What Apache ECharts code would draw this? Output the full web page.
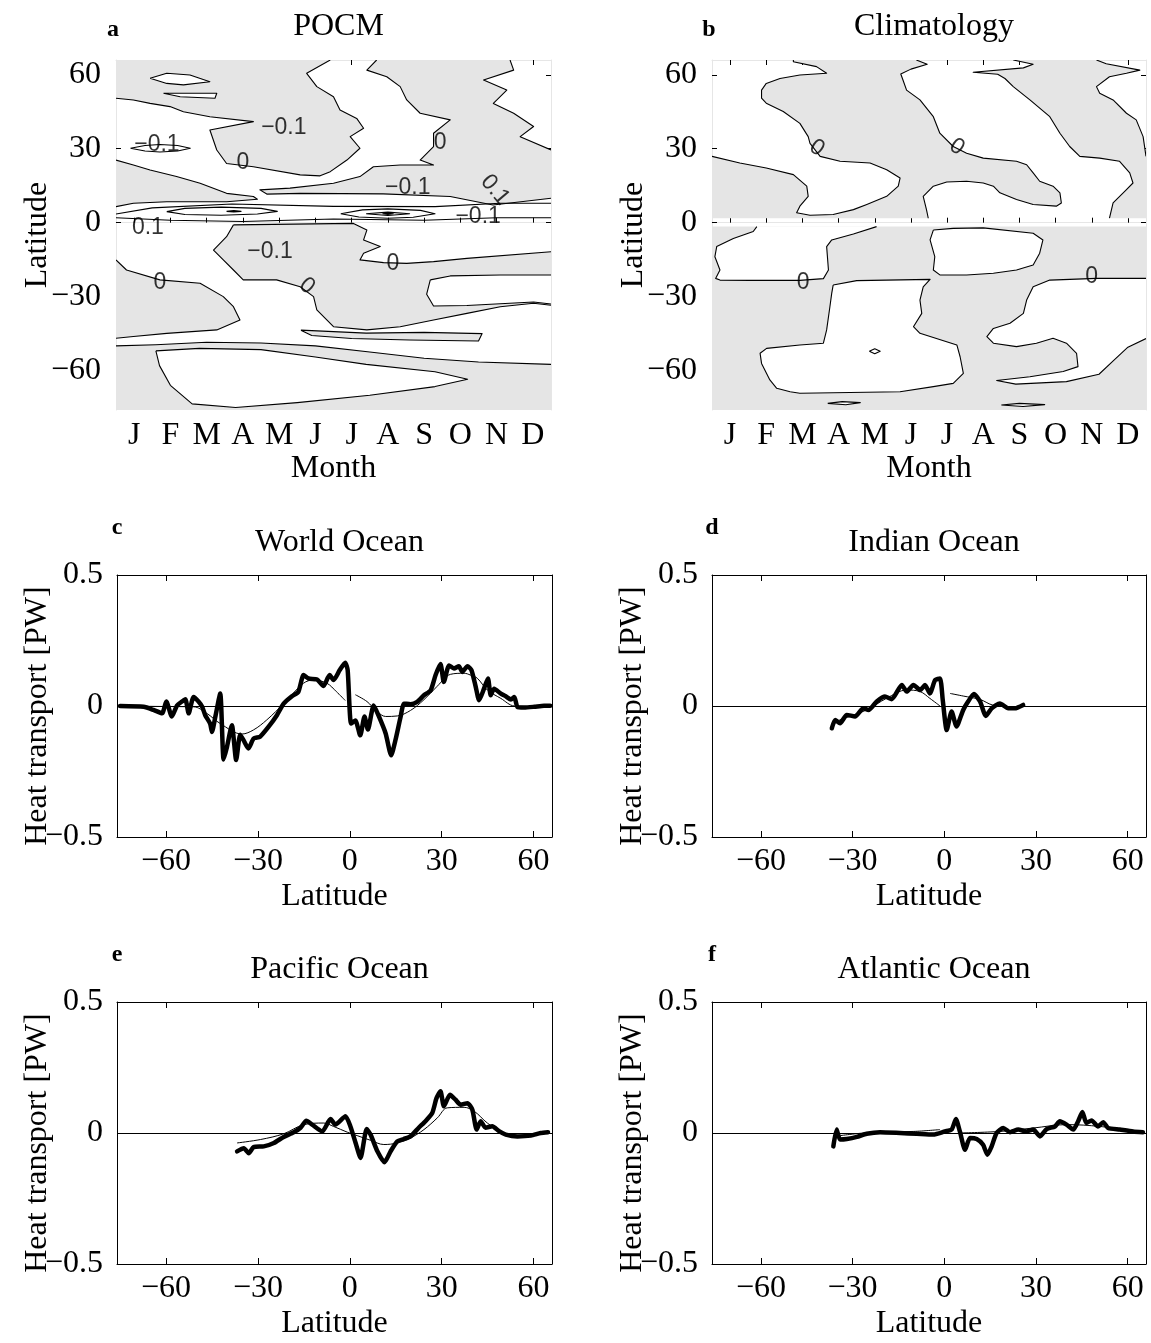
<!DOCTYPE html>
<html><head><meta charset="utf-8"><title>Heat transport</title>
<script src="https://cdn.jsdelivr.net/npm/echarts@6.0.0/dist/echarts.min.js"></script>
<style>html,body{margin:0;padding:0;background:#fff}#chart{width:1151px;height:1343px}</style>
</head><body><div id="chart"></div>
<script>
// ---------------- DATA ----------------
const monthLabels = ['J','F','M','A','M','J','J','A','S','O','N','D'];
const latTickValues = [-60, -30, 0, 30, 60];
const heatTickInterval = 0.5;

// Panel a (POCM): grey (negative) regions, white holes, closed contours, open contours [month, latitude]
const pocmGrey = [
  [[0.5,66],[6.41,66],[5.76,60.6],[6.04,55.2],[6.5,51.1],[6.68,45.7],[7.14,42.3],[7.33,38.3],[6.96,34.9],[7.23,30.2],[6.87,25.4],[6.41,20.7],[6.13,19.0],[5.58,19.4],[4.29,22.7],[3.55,24.0],[3.28,29.5],[3.09,37.6],[4.29,41.0],[3.09,43.0],[2.36,45.0],[1.99,47.1],[1.44,48.4],[0.98,49.8],[0.5,50.5]],
  [[7.69,66],[11.37,66],[11.47,61.9],[10.64,57.9],[11.28,53.8],[10.91,48.4],[11.47,44.4],[12.02,39.0],[11.65,34.9],[12.5,29.5],[12.5,9.9],[10.9,7.2],[9.72,10.6],[7.87,11.7],[5.58,11.9],[4.66,11.6],[4.47,13.3],[5.3,14.0],[6.5,16.0],[7.23,18.7],[7.6,22.7],[8.34,23.4],[9.26,23.4],[8.89,25.4],[9.26,30.9],[9.26,36.3],[9.72,41.7],[8.89,44.4],[8.52,49.8],[8.34,55.2],[7.97,59.2],[7.42,61.9]],
  [[0.5,25.4],[0.98,23.4],[1.44,21.4],[2.17,18.7],[2.82,16.0],[3.55,11.9],[4.29,10.6],[4.4,9.5],[3.55,8.5],[1.9,8.5],[0.98,7.9],[0.5,6.5]],
  [[0.5,-15.1],[0.79,-19.2],[1.71,-23.2],[2.82,-24.6],[3.46,-30.0],[3.74,-34.1],[3.92,-39.5],[3.28,-43.5],[1.9,-44.9],[0.98,-46.2],[0.5,-46.9]],
  [[3.74,-0.9],[7.05,-0.3],[7.42,-3.0],[7.33,-7.0],[7.79,-9.7],[7.33,-12.4],[7.23,-15.1],[7.88,-16.2],[8.52,-16.5],[9.26,-15.8],[10.18,-14.5],[12.5,-11.8],[12.5,-33.5],[12.02,-32.7],[11.1,-34.1],[10.18,-36.8],[9.26,-39.5],[8.34,-42.2],[7.42,-43.5],[6.5,-42.2],[6.04,-35.4],[5.95,-30.0],[5.58,-26.0],[4.93,-23.2],[4.01,-23.2],[3.74,-19.2],[3.46,-15.1],[3.19,-11.1],[3.55,-5.7]],
  [[5.6,-43.6],[7.4,-44.8],[9.0,-44.5],[10.6,-45.0],[10.5,-48.0],[8.6,-47.6],[7.0,-47.0],[5.9,-45.8]],
  [[0.5,-50],[1.6,-49.5],[3.0,-48.5],[4.5,-48.8],[6.0,-50.0],[7.5,-52.5],[9.0,-55.0],[10.5,-56.5],[12.5,-57.5],[12.5,-76],[0.5,-76]]
];
const pocmWhite = [
  [[1.44,58.6],[1.90,60.6],[2.54,59.9],[3.09,57.2],[2.36,55.9],[1.90,56.5]],
  [[1.81,52.5],[3.28,52.5],[3.23,50.5],[2.27,51.1]],
  [[9.17,-23.2],[9.72,-21.6],[11.1,-21.2],[12.5,-21.2],[12.5,-33.0],[12.02,-32.2],[10.18,-33.6],[9.26,-33.8],[9.07,-29.0]],
  [[1.6,-52],[2.8,-51],[4.5,-51.5],[6.0,-54.5],[7.4,-57.5],[9.3,-60.5],[10.2,-63.5],[9.3,-66.5],[7.5,-70.0],[5.5,-73.0],[3.8,-75.0],[2.6,-73.5],[2.0,-66.0],[1.7,-58.0]]
];
const pocmRings = [
  [[1.9,4.5],[2.4,5.8],[3.4,6.3],[4.5,5.8],[4.95,4.6],[4.4,3.5],[3.4,3.0],[2.4,3.3]],
  [[3.55,4.6],[3.75,4.9],[3.95,4.6],[3.75,4.3]],
  [[6.7,3.6],[7.3,5.2],[8.0,5.6],[8.9,5.0],[9.3,3.6],[8.7,2.2],[8.0,1.8],[7.2,2.3]],
  [[7.4,3.6],[8.0,4.3],[8.6,3.6],[8.0,2.9]],
  [[7.85,3.6],[8.0,3.85],[8.15,3.6],[8.0,3.35]],
  [[0.9,30.2],[1.3,31.3],[1.71,31.7],[2.2,31.3],[2.55,30.2],[2.2,29.1],[1.71,28.7],[1.3,29.1]]
];
const pocmCurves = [
  [[0.5,3.5],[1.5,6.0],[3.7,7.6],[6.5,6.6],[9.3,6.5],[11.1,7.9],[12.5,7.9]],
  [[0.5,2.0],[2.0,1.0],[4.0,0.5],[6.5,1.5],[9.0,1.0],[11.0,2.0],[12.5,2.0]]
];
const pocmLabels = [
  [1.63,31.5,'\u22120.1',0],[4.0,24.2,'0',0],[5.13,38.4,'\u22120.1',0],[9.44,32.3,'0',0],
  [8.55,14.1,'\u22120.1',0],[10.96,13.3,'0.1',-50],[10.49,2.3,'\u22120.1',0],[1.38,-2.2,'0.1',0],
  [4.75,-11.9,'\u22120.1',0],[1.71,-24.5,'0',0],[8.14,-16.8,'0',0],[5.77,-25.7,'0',-40]
];

// Panel b (Climatology)
const climGrey = [
  [[0.5,26.9],[1.27,24.2],[2.0,22.2],[2.75,19.5],[3.12,14.8],[3.16,10.7],[2.93,6.7],[2.84,4.0],[3.21,3.0],[3.85,3.3],[4.41,5.3],[4.78,7.4],[5.33,10.7],[5.65,14.8],[5.70,18.1],[5.33,21.5],[4.87,24.2],[4.04,24.9],[3.49,26.9],[3.21,32.2],[3.16,34.9],[2.93,40.3],[2.47,45.1],[2.0,48.5],[1.87,50.5],[1.87,53.8],[2.0,56.5],[2.38,58.5],[2.93,59.9],[3.67,60.6],[3.39,63.3],[2.75,65.3],[2.75,66],[6.15,66],[6.45,64.3],[6.0,62.3],[5.72,60.3],[5.79,57.5],[5.88,53.8],[6.25,49.8],[6.62,43.0],[6.80,36.3],[7.17,30.9],[7.54,28.2],[8.0,26.2],[8.92,24.9],[9.2,23.5],[9.38,20.2],[9.56,16.8],[9.93,14.8],[10.12,12.1],[10.16,8.0],[10.02,6.7],[9.38,7.4],[8.92,9.4],[8.46,12.1],[8.28,14.8],[8.0,16.1],[7.54,16.8],[6.99,16.5],[6.62,14.8],[6.34,10.7],[6.43,5.3],[6.48,1.8],[0.5,1.8]],
  [[8.83,66],[9.38,64.3],[9.11,62.8],[7.72,61.0],[8.4,60.2],[8.6,58.5],[8.83,55.2],[9.29,49.8],[9.84,43.0],[10.12,36.3],[10.39,30.9],[10.67,26.9],[11.22,26.2],[11.77,24.9],[12.05,20.2],[12.14,16.1],[11.96,13.4],[11.59,8.0],[11.49,1.8],[12.5,1.8],[12.5,26.9],[12.42,34.9],[12.23,41.7],[11.96,44.4],[11.59,49.8],[11.22,52.5],[11.13,55.2],[11.49,59.2],[11.96,60.6],[12.33,61.9],[11.4,64.5],[11.13,66]],
  [[0.5,-1.6],[12.5,-1.6],[12.5,-76],[0.5,-76]]
];
const climWhite = [
  [[1.74,-1.6],[1.64,-3.6],[1.09,-6.4],[0.63,-9.7],[0.58,-13.8],[0.72,-19.2],[0.6,-22.6],[0.72,-23.3],[1.55,-23.4],[2.93,-23.4],[3.58,-22.7],[3.72,-19.2],[3.67,-9.7],[3.81,-7.0],[4.41,-4.6],[5.05,-1.6]],
  [[3.85,-25.3],[4.5,-23.5],[6.53,-23.0],[6.34,-26.0],[6.25,-31.4],[6.30,-36.8],[6.07,-42.2],[6.25,-44.9],[7.27,-49.6],[7.36,-54.4],[7.45,-61.1],[7.17,-65.2],[6.62,-66.5],[5.70,-68.6],[2.93,-69.2],[2.66,-68.6],[2.29,-67.2],[2.10,-63.8],[1.87,-57.1],[1.83,-53.0],[2.01,-51.0],[2.93,-49.6],[3.58,-48.9],[3.67,-43.5],[3.76,-34.1],[3.81,-28.7]],
  [[6.62,-3.0],[7.17,-2.3],[8.0,-2.1],[9.38,-4.3],[9.65,-7.0],[9.56,-12.4],[9.38,-17.2],[8.92,-19.2],[8.28,-20.5],[7.54,-21.2],[6.80,-21.2],[6.62,-19.2],[6.66,-13.8],[6.53,-7.0]],
  [[12.5,-22.6],[11.13,-22.6],[9.84,-23.3],[9.38,-26.0],[9.20,-31.4],[9.11,-36.8],[8.74,-40.8],[8.28,-42.9],[8.10,-46.2],[8.28,-48.9],[8.92,-50.3],[9.47,-48.9],[9.93,-46.9],[10.30,-48.9],[10.58,-53.0],[10.62,-58.4],[10.21,-60.4],[9.29,-62.5],[8.37,-64.0],[8.9,-65.5],[10.3,-64.5],[11.2,-61.5],[11.6,-56.0],[12.0,-50.5],[12.5,-47.0]],
  [[3.7,-73.3],[4.1,-72.6],[4.6,-73.0],[4.2,-73.9]],
  [[8.5,-74.0],[9.0,-73.3],[9.7,-73.8],[9.1,-74.6]]
];
const climRings = [
  [[4.85,-52.2],[5.0,-51.2],[5.15,-52.2],[5.0,-53.2]]
];
const climLabels = [
  [3.40,30.3,'0',-35],[7.27,30.7,'0',-35],[3.02,-24.5,'0',0],[11.0,-22.0,'0',0]
];

// Panels c-f: [latitude, PW]; thick = POCM, thin = climatology-based estimate
const worldModel = [[-75,0],[-67.3,-0.003],[-64.1,-0.015],[-61.3,-0.028],[-59.9,0.017],[-58.1,-0.04],[-56.4,0.002],[-54.8,0.017],[-53.7,0.026],[-52.6,-0.028],[-51.0,0.034],[-49.4,0.017],[-48.2,-0.003],[-47.2,-0.035],[-45.6,-0.067],[-45.0,-0.099],[-43.9,-0.041],[-42.3,0.048],[-41.2,-0.204],[-40.1,-0.156],[-38.5,-0.073],[-37.1,-0.206],[-35.8,-0.11],[-34.7,-0.13],[-33.1,-0.162],[-31.4,-0.124],[-29.3,-0.117],[-26.5,-0.079],[-23.8,-0.035],[-21.6,0.009],[-18.9,0.037],[-16.8,0.054],[-15.1,0.118],[-13.5,0.105],[-10.7,0.101],[-8.6,0.076],[-6.6,0.118],[-5.3,0.099],[-3.3,0.137],[-1.5,0.165],[-0.7,0.137],[0.4,-0.067],[1.8,-0.055],[3.4,-0.112],[4.8,-0.04],[5.9,-0.09],[7.8,0.002],[9.5,-0.04],[11.7,-0.105],[13.5,-0.188],[14.9,-0.13],[16.6,-0.04],[17.7,0.009],[19.8,0.007],[22.0,0.016],[24.2,0.041],[26.4,0.06],[28.0,0.118],[29.6,0.16],[30.7,0.092],[32.4,0.155],[34.0,0.143],[35.6,0.152],[36.7,0.13],[38.4,0.152],[39.7,0.137],[41.1,0.073],[42.2,0.022],[43.8,0.066],[45.1,0.105],[46.0,0.041],[47.1,0.066],[49.3,0.047],[50.9,0.037],[52.6,0.025],[53.7,0.034],[54.7,-0.003],[56.9,-0.006],[60.2,-0.003],[63.4,0.001],[65.4,0.001]];
const worldClimSouth = [[-75,0],[-60,-0.002],[-51,-0.003],[-46.7,-0.028],[-42.3,-0.067],[-35.2,-0.107],[-31.4,-0.091],[-27.1,-0.053],[-21.6,0.009],[-15.1,0.087],[-11.8,0.099],[-7.5,0.087],[-4.4,0.055],[-1.5,0.021]];
const worldClimNorth = [[1.8,0.043],[5.6,0.017],[8.9,-0.021],[11.7,-0.040],[15.5,-0.038],[19.8,-0.017],[24.2,0.024],[28.5,0.075],[32.9,0.121],[37.3,0.125],[39.4,0.118],[41.6,0.106],[44.9,0.061],[49.3,0.029],[53.7,0.0],[60,-0.002],[65.4,0.0]];

const indianModel = [[-36.8,-0.085],[-35.7,-0.053],[-34.1,-0.066],[-31.9,-0.034],[-29.2,-0.040],[-26.5,-0.009],[-24.8,-0.015],[-22.1,0.017],[-19.4,0.036],[-17.2,0.026],[-13.9,0.080],[-12.3,0.055],[-10.1,0.080],[-7.9,0.061],[-6.3,0.080],[-4.7,0.048],[-3.0,0.099],[-1.4,0.105],[-0.5,0.023],[0.8,-0.092],[2.4,-0.021],[4.0,-0.078],[6.2,-0.015],[7.8,0.017],[9.7,0.046],[11.7,0.017],[13.6,-0.038],[15.5,-0.009],[18.2,0.010],[20.9,-0.009],[23.1,-0.009],[25.8,0.004]];
const indianClimSouth = [[-36.8,-0.072],[-34.1,-0.053],[-25.4,-0.015],[-18.8,0.030],[-12.3,0.061],[-7.9,0.055],[-4.7,0.029],[-1.4,0.0]];
const indianClimNorth = [[1.9,0.048],[6.2,0.038],[11.7,0.025],[15.7,0.004],[20.9,-0.003],[25.8,0.0]];

const pacificModel = [[-36.8,-0.070],[-34.6,-0.058],[-33.0,-0.077],[-31.4,-0.054],[-28.1,-0.051],[-24.8,-0.038],[-21.6,-0.015],[-18.3,0.003],[-16.1,0.020],[-14.2,0.047],[-12.3,0.032],[-9.0,0.006],[-6.3,0.053],[-4.7,0.032],[-1.4,0.064],[0.2,0.025],[1.9,-0.038],[3.5,-0.095],[5.5,0.015],[6.8,-0.007],[9.0,-0.070],[11.3,-0.112],[13.3,-0.070],[15.5,-0.032],[17.6,-0.023],[19.8,-0.013],[22.5,0.020],[24.7,0.045],[26.9,0.076],[28.3,0.133],[29.6,0.159],[30.7,0.102],[32.7,0.146],[34.5,0.127],[36.2,0.108],[38.4,0.114],[40.0,0.089],[41.4,0.013],[42.7,0.045],[44.3,0.020],[46.5,0.026],[48.7,0.007],[50.9,-0.006],[54.7,-0.013],[59.1,-0.010],[62.3,0.000],[64.7,0.003]];
const pacificClim = [[-36.8,-0.038],[-29.2,-0.025],[-21.6,-0.003],[-15.0,0.032],[-8.5,0.038],[-5.3,0.025],[-0.8,0.003],[2.4,-0.010],[6.8,-0.028],[11.1,-0.044],[15.5,-0.038],[19.8,-0.019],[24.2,0.013],[28.6,0.058],[31.8,0.096],[37.3,0.098],[40.6,0.083],[44.9,0.038],[49.2,0.006],[52.5,-0.006],[57.9,-0.010],[64.7,0.003]];

const atlanticModel = [[-36.3,-0.051],[-35.2,0.013],[-34.1,-0.025],[-31.9,-0.023],[-28.6,-0.015],[-25.4,-0.003],[-21.0,0.003],[-14.5,0.000],[-9.0,-0.003],[-3.6,-0.006],[0.2,0.006],[2.4,0.013],[3.8,0.053],[5.1,0.006],[6.8,-0.064],[8.4,-0.019],[10.6,-0.023],[12.7,-0.045],[14.1,-0.083],[15.5,-0.051],[17.1,0.000],[19.3,0.019],[21.5,0.003],[24.2,0.013],[26.9,0.006],[29.1,0.013],[31.3,-0.013],[33.5,0.015],[36.2,0.025],[37.8,0.045],[40.0,0.032],[42.2,0.013],[43.8,0.045],[45.2,0.080],[46.5,0.038],[48.2,0.048],[50.3,0.025],[52.0,0.041],[53.6,0.019],[57.4,0.013],[61.8,0.006],[65.0,0.003]];
const atlanticClimSouth = [[-34.1,-0.010],[-23.3,0.003],[-10.0,0.006],[-1.4,0.013]];
const atlanticClimNorth = [[5.0,0.000],[18.2,0.006],[29.1,0.019],[40.0,0.032],[50.9,0.025],[65.0,0.003]];

// ---------------- BUILD ----------------
const SERIF = 'Liberation Serif';
const SANS = 'Liberation Sans';
const GREY = '#e5e5e5';
const LAT_MIN = -76, LAT_MAX = 66;
const fmt = v => (v < 0 ? '\u2212' + Math.abs(v) : String(v));

const grids = [], xAxes = [], yAxes = [], series = [], titles = [], graphics = [];

function txt(text, x, y, size, bold) {
  titles.push({text, left: x, top: y, textAlign: 'center',
    textStyle: {fontFamily: SERIF, fontSize: size, fontWeight: bold ? 'bold' : 'normal', color: '#000'}});
}
function vtxt(text, x, y) {
  graphics.push({type: 'text', x: x, y: y, rotation: Math.PI / 2, silent: true,
    style: {text: text, fill: '#000', font: '32px "Liberation Serif"', textAlign: 'center', textVerticalAlign: 'middle', align: 'center', verticalAlign: 'middle'}});
}

function polySeries(xi, yi, polys, fill, closed, frame, z) {
  return {
    type: 'custom', xAxisIndex: xi, yAxisIndex: yi, silent: true, clip: true, z: z,
    dimensions: ['x', 'y', 'idx'], encode: {x: 0, y: 1},
    data: polys.map((p, i) => [p[0][0], p[0][1], i]),
    renderItem: function (params, api) {
      const poly = polys[api.value(2)];
      const pts = poly.map(p => api.coord(p));
      const children = [];
      if (fill) children.push({type: 'polygon', shape: {points: pts}, style: {fill: fill, stroke: null, lineWidth: 0}});
      const onF = (a, b) => frame.x.some(v => a[0] === v && b[0] === v) || frame.y.some(v => a[1] === v && b[1] === v);
      const n = poly.length, edges = closed ? n : n - 1;
      let run = [];
      const flush = () => { if (run.length > 1) children.push({type: 'polyline', shape: {points: run}, style: {stroke: '#000', lineWidth: 1.1, fill: null, lineJoin: 'round'}}); run = []; };
      for (let i = 0; i < edges; i++) {
        const a = poly[i], b = poly[(i + 1) % n];
        if (onF(a, b)) { flush(); }
        else { if (!run.length) run.push(pts[i]); run.push(pts[(i + 1) % n]); }
      }
      flush();
      return {type: 'group', children};
    }
  };
}

function labelSeries(xi, yi, labels, size) {
  return {
    type: 'scatter', xAxisIndex: xi, yAxisIndex: yi, silent: true, z: 10,
    symbolSize: 1, itemStyle: {color: 'rgba(0,0,0,0)'},
    data: labels.map(l => ({value: [l[0], l[1]], label: {formatter: l[2], rotate: l[3]}})),
    label: {show: true, position: 'inside', color: '#000', fontFamily: SANS, fontSize: size}
  };
}

function contourPanel(left, top, width, height, grey, white, rings, curves, labels, frameY, letter, title) {
  const gi = grids.length;
  grids.push({left, top, width, height});
  const xi = xAxes.length, yi = yAxes.length;
  xAxes.push({type: 'value', gridIndex: gi, min: 0.5, max: 12.5, show: false});
  const catBase = {type: 'category', gridIndex: gi, data: monthLabels.map((m, i) => String(i + 1)), boundaryGap: true,
    axisLine: {lineStyle: {color: '#e6e6e6', width: 1}},
    axisTick: {show: true, inside: true, alignWithLabel: true, length: 5, lineStyle: {color: '#000'}},
    splitLine: {show: false}};
  xAxes.push(Object.assign({}, catBase, {position: 'bottom',
    axisLabel: {interval: 0, margin: 10, color: '#000', fontFamily: SERIF, fontSize: 32, formatter: (v, i) => monthLabels[i]},
    name: 'Month', nameLocation: 'middle', nameGap: 43, nameTextStyle: {fontFamily: SERIF, fontSize: 32, color: '#000'}}));
  xAxes.push(Object.assign({}, catBase, {position: 'top', axisLabel: {show: false}}));
  const yBase = {type: 'value', gridIndex: gi, min: LAT_MIN, max: LAT_MAX, splitLine: {show: false},
    axisLine: {show: true, lineStyle: {color: '#e6e6e6'}},
    axisTick: {show: true, inside: true, length: 5, customValues: latTickValues, lineStyle: {color: '#000'}}};
  yAxes.push(Object.assign({}, yBase, {position: 'left',
    axisLabel: {customValues: latTickValues, margin: 15, color: '#000', fontFamily: SERIF, fontSize: 32, formatter: fmt}}));
  yAxes.push(Object.assign({}, yBase, {position: 'right', axisLabel: {show: false}}));
  const frame = {x: [0.5, 12.5], y: frameY};
  series.push(polySeries(xi, yi, grey, GREY, true, frame, 2));
  series.push(polySeries(xi, yi, white, '#ffffff', true, frame, 3));
  series.push(polySeries(xi, yi, rings, null, true, frame, 4));
  if (curves.length) series.push(polySeries(xi, yi, curves, null, false, frame, 4));
  series.push(labelSeries(xi, yi, labels, 23));
  txt(letter, left - 8, top - 47, 24, true);
  txt(title, left + width / 2, top - 54, 32, false);
  vtxt('Latitude', left - 78, top + height / 2);
}

function linePanel(left, top, width, height, model, climParts, letter, title) {
  const gi = grids.length;
  grids.push({left, top, width, height});
  const xi = xAxes.length, yi = yAxes.length;
  const xBase = {type: 'value', gridIndex: gi, min: LAT_MIN, max: LAT_MAX, splitLine: {show: false},
    axisLine: {show: true, onZero: false, lineStyle: {color: '#000', width: 1}},
    axisTick: {show: true, inside: true, length: 6, customValues: latTickValues, lineStyle: {color: '#000'}}};
  xAxes.push(Object.assign({}, xBase, {position: 'bottom',
    axisLabel: {customValues: latTickValues, margin: 9, color: '#000', fontFamily: SERIF, fontSize: 32, formatter: fmt},
    name: 'Latitude', nameLocation: 'middle', nameGap: 44, nameTextStyle: {fontFamily: SERIF, fontSize: 32, color: '#000'}}));
  xAxes.push(Object.assign({}, xBase, {position: 'top', axisLabel: {show: false}}));
  const yBase = {type: 'value', gridIndex: gi, min: -0.5, max: 0.5, interval: heatTickInterval, splitLine: {show: false},
    axisLine: {show: true, onZero: false, lineStyle: {color: '#000', width: 1}},
    axisTick: {show: true, inside: true, length: 6, lineStyle: {color: '#000'}}};
  yAxes.push(Object.assign({}, yBase, {position: 'left',
    axisLabel: {margin: 14, color: '#000', fontFamily: SERIF, fontSize: 32, formatter: fmt}}));
  yAxes.push(Object.assign({}, yBase, {position: 'right', axisLabel: {show: false}}));
  climParts.forEach(part => series.push({type: 'line', xAxisIndex: xi, yAxisIndex: yi, data: part, showSymbol: false, symbol: 'none',
    silent: true, smooth: 0.35, lineStyle: {color: '#000', width: 1}, z: 3}));
  series.push({type: 'line', xAxisIndex: xi, yAxisIndex: yi, data: model, showSymbol: false, symbol: 'none', silent: true, z: 4,
    smooth: 0.2, lineStyle: {color: '#000', width: 4.5, join: 'round', cap: 'round'},
    markLine: {silent: true, symbol: 'none', label: {show: false}, lineStyle: {color: '#000', width: 1, type: 'solid'}, data: [{yAxis: 0}]}});
  txt(letter, left - 5, top - 64, 24, true);
  txt(title, left + width / 2, top - 53, 32, false);
  vtxt('Heat transport [PW]', left - 79, top + height / 2 + 10);
}

contourPanel(116, 60, 435, 350, pocmGrey, pocmWhite, pocmRings, pocmCurves, pocmLabels, [66, -76], 'a', 'POCM');
contourPanel(712, 60, 434, 350, climGrey, climWhite, climRings, [], climLabels, [66, -76, 1.8, -1.6], 'b', 'Climatology');
linePanel(117, 575, 435, 262, worldModel, [worldClimSouth, worldClimNorth], 'c', 'World Ocean');
linePanel(712, 575, 434, 262, indianModel, [indianClimSouth, indianClimNorth], 'd', 'Indian Ocean');
linePanel(117, 1002, 435, 262, pacificModel, [pacificClim], 'e', 'Pacific Ocean');
linePanel(712, 1002, 434, 262, atlanticModel, [atlanticClimSouth, atlanticClimNorth], 'f', 'Atlantic Ocean');

const chart = echarts.init(document.getElementById('chart'), null, {renderer: 'canvas'});
chart.setOption({
  backgroundColor: '#fff', animation: false,
  title: titles, grid: grids, xAxis: xAxes, yAxis: yAxes, series: series, graphic: graphics
});
</script></body></html>
